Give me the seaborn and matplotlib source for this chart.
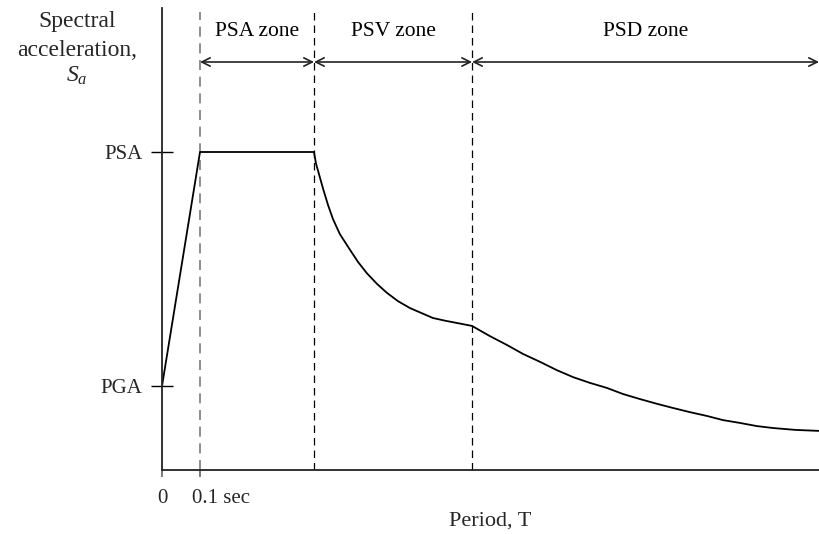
import numpy as np
import pandas as pd
import matplotlib
matplotlib.use("Agg")
import matplotlib.pyplot as plt
import seaborn as sns
from matplotlib.transforms import ScaledTranslation

# ---- data (schematic units) ----
period = [0.0, 0.1, 0.4, 0.405, 0.413, 0.424, 0.437, 0.45, 0.468, 0.495, 0.516,
          0.539, 0.566, 0.592, 0.621, 0.653, 0.682, 0.713, 0.747, 0.782, 0.816,
          0.863, 0.908, 0.95, 0.995, 1.039, 1.082, 1.126, 1.171, 1.213, 1.258,
          1.303, 1.345, 1.389, 1.434, 1.476, 1.521, 1.566, 1.608, 1.668, 1.729]
sa = [0.264, 1.0, 1.0, 0.965, 0.931, 0.884, 0.833, 0.789, 0.742, 0.692, 0.654,
      0.619, 0.585, 0.557, 0.531, 0.509, 0.494, 0.478, 0.469, 0.461, 0.453,
      0.421, 0.393, 0.365, 0.340, 0.314, 0.292, 0.274, 0.258, 0.239, 0.223,
      0.208, 0.195, 0.182, 0.170, 0.157, 0.148, 0.138, 0.132, 0.126, 0.123]
zone_bounds = [0.1, 0.4, 0.816, 1.729]
zone_labels = ["PSA zone", "PSV zone", "PSD zone"]
ytick_vals = [0.264, 1.0]
ytick_labels = ["PGA", "PSA"]
xtick_vals = [0.0, 0.1]
xtick_labels = ["0", "0.1 sec"]

sns.set_theme(style="white")
plt.rcParams["font.family"] = ["Liberation Serif", "DejaVu Serif"]
plt.rcParams["mathtext.fontset"] = "custom"
plt.rcParams["mathtext.it"] = "Liberation Serif:italic"
plt.rcParams["mathtext.rm"] = "Liberation Serif"

fig = plt.figure(figsize=(8.19, 5.34), dpi=100)
ax = fig.add_axes([162 / 819, 1 - 470 / 534, 1 - 162 / 819, (470 - 8) / 534])
xmax = zone_bounds[-1]
ymax = (470 - 8) / 318
ax.set_xlim(0, xmax)
ax.set_ylim(0, ymax)

df = pd.DataFrame({"T": period, "Sa": sa})
sns.lineplot(data=df, x="T", y="Sa", sort=False, estimator=None, color="black",
             lw=1.3, ax=ax)

# dashed zone boundaries
dash_top = (470 - 12) / 318
for i, xb in enumerate(zone_bounds[:-1]):
    ax.plot([xb, xb], [0, dash_top], color="#7a7a7a" if i == 0 else "black",
            lw=1.2 if i == 0 else 0.9, dashes=(6, 4), zorder=1)

# zone arrows and labels
arrow_y = (470 - 62) / 318
label_y = (470 - 32) / 318
for i, lab in enumerate(zone_labels):
    x0, x1 = zone_bounds[i], zone_bounds[i + 1]
    ax.annotate("", xy=(x1, arrow_y), xytext=(x0, arrow_y),
                arrowprops=dict(arrowstyle="<->", color="#222222", lw=1.2,
                                mutation_scale=15, shrinkA=0, shrinkB=0),
                annotation_clip=False)
    ax.text((x0 + x1) / 2, label_y, lab, ha="center", va="center", fontsize=15.5,
            color="black")

# spines
sns.despine(ax=ax)
for s in ["left", "bottom"]:
    ax.spines[s].set_color("#222222")
    ax.spines[s].set_linewidth(1.3)

ax.set_xticks(xtick_vals)
ax.set_xticklabels(xtick_labels, fontsize=15)
ax.tick_params(axis="x", direction="out", length=5, width=1.1, color="#555555",
               pad=9, bottom=True)
lbls = ax.get_xticklabels()
lbls[1].set_ha("left")
lbls[1].set_transform(lbls[1].get_transform() +
                      ScaledTranslation(-8 / 100, 0, fig.dpi_scale_trans))

ax.set_yticks(ytick_vals)
ax.set_yticklabels(ytick_labels, fontsize=15)
ax.tick_params(axis="y", direction="inout", length=16, width=1.0, color="black",
               pad=6, left=True)

ax.set_xlabel("Period, T", fontsize=16, labelpad=2)
ax.set_ylabel("")

# y-axis title
fig.text(77 / 819, 1 - 22 / 534, "Spectral", ha="center", va="center", fontsize=17)
fig.text(77 / 819, 1 - 50 / 534, "acceleration,", ha="center", va="center", fontsize=17)
fig.text(77 / 819, 1 - 76 / 534, r"$S_a$", ha="center", va="center", fontsize=17)

fig.savefig("out.png", dpi=100)
